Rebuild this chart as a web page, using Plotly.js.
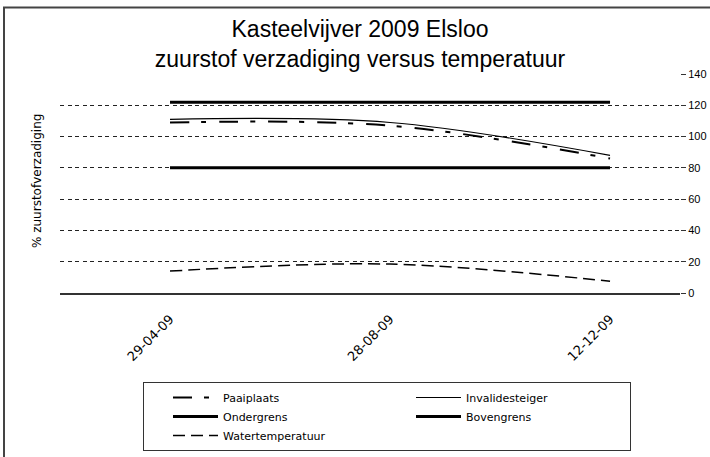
<!DOCTYPE html>
<html>
<head>
<meta charset="utf-8">
<script src="https://cdn.plot.ly/plotly-3.0.1.min.js"></script>
<style>html,body{margin:0;padding:0;background:#fff;}#chart{width:710px;height:457px;}</style>
</head>
<body>
<div id="chart"></div>
<script>
// ---- data ----
var dates = ['29-04-09', '28-08-09', '12-12-09'];
var paaiplaats = [109, 107, 86];
var invalidesteiger = [111, 109, 88];
var ondergrens = [80, 80, 80];
var bovengrens = [122, 122, 122];
var watertemperatuur = [14, 18.5, 7.5];
var yTicks = [0, 20, 40, 60, 80, 100, 120, 140];
var gridTicks = [20, 40, 60, 80, 100, 120];

var traces = [
  {name: 'Paaiplaats', x: dates, y: paaiplaats, mode: 'lines',
   line: {color: '#000', width: 2, dash: '19px,12px,5px,13px', shape: 'spline', smoothing: 1}},
  {name: 'Invalidesteiger', x: dates, y: invalidesteiger, mode: 'lines',
   line: {color: '#000', width: 1.2, shape: 'spline', smoothing: 1}},
  {name: 'Ondergrens', x: dates, y: ondergrens, mode: 'lines',
   line: {color: '#000', width: 3}},
  {name: 'Bovengrens', x: dates, y: bovengrens, mode: 'lines',
   line: {color: '#000', width: 3}},
  {name: 'Watertemperatuur', x: dates, y: watertemperatuur, mode: 'lines',
   line: {color: '#000', width: 1.5, dash: '12px,6px', shape: 'spline', smoothing: 1}},
  {x: [], y: [], yaxis: 'y2', showlegend: false, hoverinfo: 'skip', type: 'scatter', mode: 'lines'}
];

var layout = {
  width: 710, height: 457,
  margin: {l: 60, r: 30, t: 74, b: 164, pad: 0, autoexpand: false},
  paper_bgcolor: '#fff', plot_bgcolor: '#fff',
  font: {family: 'Liberation Sans, Arial, sans-serif', color: '#000', size: 11},
  showlegend: true,
  hovermode: false,
  title: {
    text: 'Kasteelvijver 2009 Elsloo<br>zuurstof verzadiging versus temperatuur',
    font: {family: 'Liberation Sans, Arial, sans-serif', size: 23, color: '#000'},
    x: 360 / 710, xanchor: 'center', xref: 'container',
    y: 1 - 37 / 457, yanchor: 'top', yref: 'container', automargin: false
  },
  xaxis: {
    type: 'category',
    range: [-0.5, 2.318],
    automargin: false,
    showgrid: false, zeroline: false,
    showline: true, linecolor: '#333', linewidth: 1.5,
    ticks: '', tickangle: -45,
    ticklabelstandoff: 12,
    tickfont: {family: 'DejaVu Sans, sans-serif', size: 13, color: '#000'}
  },
  yaxis: {
    range: [0, 140],
    side: 'right',
    automargin: false,
    tickmode: 'array', tickvals: yTicks, ticktext: yTicks.map(String),
    showgrid: false, zeroline: false, showline: false,
    ticks: 'outside', ticklen: 5, tickcolor: '#333', tickwidth: 1,
    tickfont: {family: 'Liberation Sans, Arial, sans-serif', size: 11, color: '#000'}
  },
  yaxis2: {
    overlaying: 'y', side: 'right', range: [0, 140],
    automargin: false,
    tickmode: 'array', tickvals: gridTicks,
    showticklabels: false, ticks: '',
    showgrid: true, gridcolor: '#222', gridwidth: 1, griddash: '4px,3.5px',
    zeroline: false, showline: false
  },
  legend: {
    orientation: 'h',
    xref: 'container', yref: 'container',
    x: 143 / 710, xanchor: 'left',
    y: 1 - 382 / 457, yanchor: 'top',
    bgcolor: '#fff', bordercolor: '#333', borderwidth: 1,
    font: {family: 'DejaVu Sans, sans-serif', size: 11, color: '#000'},
    itemwidth: 45, indentation: 24,
    entrywidth: 159, entrywidthmode: 'pixels',
    traceorder: 'normal'
  },
  annotations: [{
    text: '% zuurstofverzadiging',
    xref: 'paper', yref: 'paper',
    x: (37 - 60) / 620, y: (293 - 181) / 219,
    xanchor: 'center', yanchor: 'middle',
    textangle: -90, showarrow: false,
    font: {family: 'DejaVu Sans, sans-serif', size: 12, color: '#000'}
  }],
  shapes: [{
    type: 'rect', xref: 'paper', yref: 'paper',
    x0: (4 - 60) / 620, x1: (740 - 60) / 620,
    y0: (293 - 470) / 219, y1: (293 - 7.5) / 219,
    line: {color: '#444', width: 2}, fillcolor: 'rgba(0,0,0,0)', layer: 'below'
  }]
};

Plotly.newPlot('chart', traces, layout, {displayModeBar: false, staticPlot: true});
</script>
</body>
</html>
